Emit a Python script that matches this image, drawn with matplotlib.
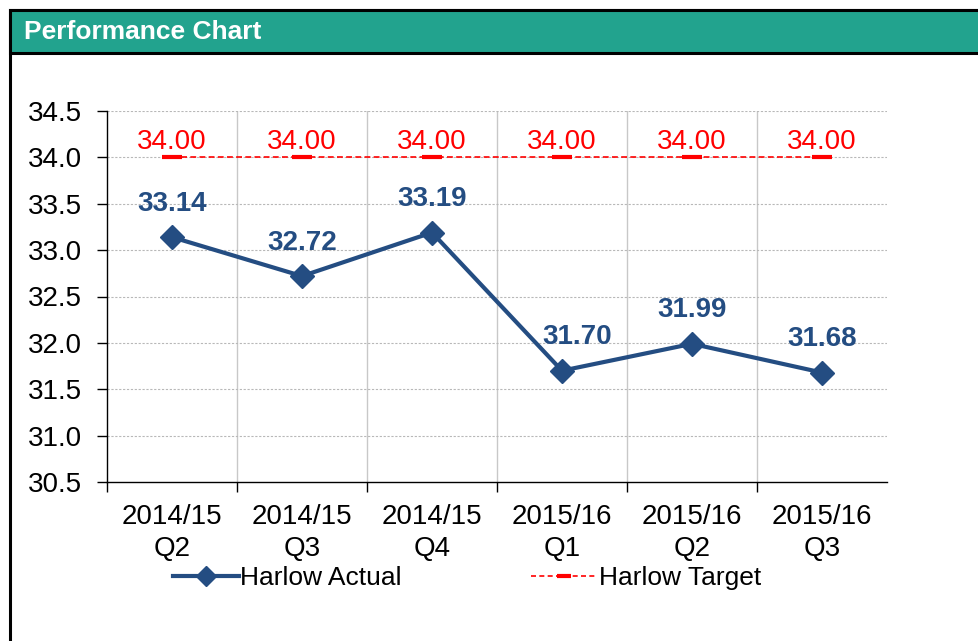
import matplotlib.pyplot as plt
from matplotlib.patches import Rectangle
from matplotlib.lines import Line2D

plt.rcParams['font.family'] = ['Liberation Sans', 'DejaVu Sans']

# data
quarters = ["2014/15\nQ2", "2014/15\nQ3", "2014/15\nQ4",
            "2015/16\nQ1", "2015/16\nQ2", "2015/16\nQ3"]
actual = [33.14, 32.72, 33.19, 31.70, 31.99, 31.68]
target = [34.00, 34.00, 34.00, 34.00, 34.00, 34.00]
y_ticks = [30.5, 31.0, 31.5, 32.0, 32.5, 33.0, 33.5, 34.0, 34.5]

blue = "#244D82"
red = "#FF0000"
teal = "#22A38E"

W, H = 979, 641
fig = plt.figure(figsize=(W / 100, H / 100), dpi=100)

# -----------------------------
# frame and header band
# -----------------------------
fig.patches.append(Rectangle((10 / W, -0.1), 1.2, 1.1 - 10 / H, transform=fig.transFigure,
                             facecolor="white", edgecolor="black", linewidth=2.2, zorder=-5))
fig.patches.append(Rectangle((10 / W, 1 - 53 / H), 1.2, 43 / H, transform=fig.transFigure,
                             facecolor=teal, edgecolor="black", linewidth=2.2, zorder=-4))
fig.text(24 / W, 1 - 32 / H, "Performance Chart", color="white", fontsize=19,
         fontweight="bold", va="center", ha="left")

# -----------------------------
# plot area
# -----------------------------
ax = fig.add_axes([107 / W, 1 - 482 / H, 780 / W, 371 / H])
ax.patch.set_alpha(0)
x = list(range(len(quarters)))

ax.plot(x, target, color=red, linestyle=(0, (3.5, 2)), linewidth=1.2,
        marker="_", markersize=15, markeredgewidth=3, zorder=3)
ax.plot(x, actual, color=blue, linewidth=3, marker="D", markersize=12, zorder=4)

for xi, v in zip(x, target):
    ax.annotate(f"{v:.2f}", (xi, v), xytext=(0, 6), textcoords="offset points",
                ha="center", va="baseline", color=red, fontsize=20)

# the 31.70 label sits a little to the right of its point
nudge = {3: 11}
for xi, v in zip(x, actual):
    ax.annotate(f"{v:.2f}", (xi, v), xytext=(nudge.get(xi, 0), 19), textcoords="offset points",
                ha="center", va="baseline", color=blue, fontsize=20, fontweight="bold")

ax.set_xlim(-0.5, len(quarters) - 0.5)
ax.set_ylim(30.5, 34.5)
ax.set_yticks(y_ticks)
ax.set_yticklabels([f"{t:.1f}" for t in y_ticks])
ax.set_xticks(x)
ax.set_xticklabels(quarters, linespacing=1.3)
ax.tick_params(axis="x", length=0, labelsize=20, pad=16)
ax.tick_params(axis="y", length=7, width=1, labelsize=20, direction="out", pad=11)

# boundaries between categories
bounds = [i - 0.5 for i in range(len(quarters) + 1)]
ax.set_xticks(bounds[:-1], minor=True)
ax.tick_params(axis="x", which="minor", length=7, width=1, direction="out")
for b in bounds[1:-1]:
    ax.axvline(b, color="#C8C8C8", linewidth=1, zorder=1)
for t in y_ticks[1:]:
    ax.axhline(t, color="#B8B8B8", linewidth=0.8, linestyle=(0, (2, 1.5)), zorder=1)

for s in ["top", "right"]:
    ax.spines[s].set_visible(False)
ax.spines["left"].set_linewidth(1)
ax.spines["bottom"].set_linewidth(1)

# -----------------------------
# legend
# -----------------------------
handles = [
    Line2D([], [], color=blue, linewidth=3, marker="D", markersize=10),
    Line2D([], [], color=red, linestyle=(0, (3, 2)), linewidth=1.2,
           marker="_", markersize=10, markeredgewidth=3),
]
fig.legend(handles, ["Harlow Actual", "Harlow Target"], loc="center",
           bbox_to_anchor=(467 / W, 1 - 578 / H), ncol=2, frameon=False,
           fontsize=19, handlelength=2.5, handletextpad=0.05, columnspacing=4.9)

fig.savefig("out.png", dpi=100)
